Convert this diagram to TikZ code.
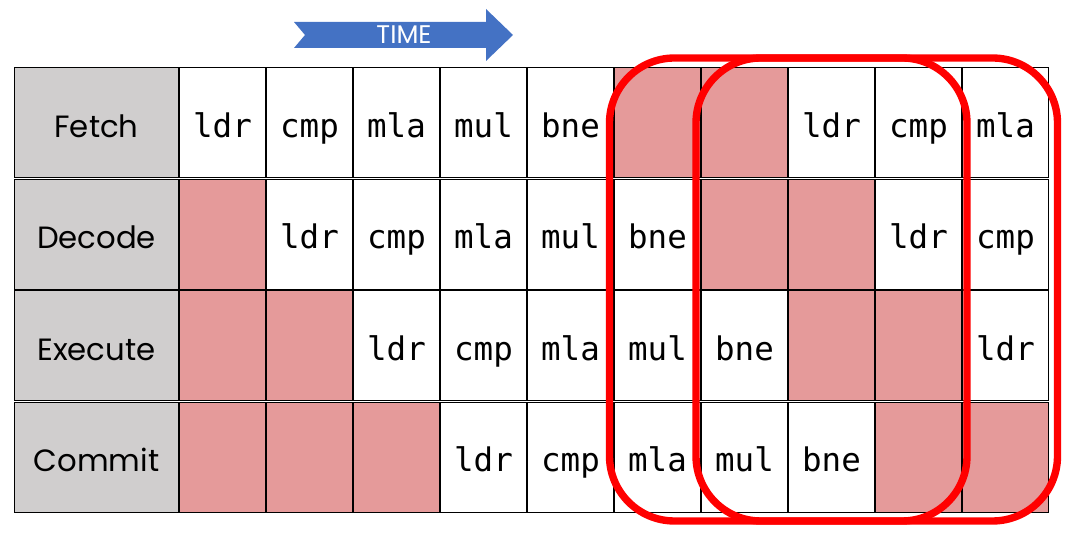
\documentclass[tikz,border=0pt]{standalone}
\usepackage{fontspec}
\setsansfont{Poppins}
\setmonofont{DejaVu Sans Mono}
\usepackage{tikz}

\definecolor{stagegray}{HTML}{D0CECE}
\definecolor{bubblepink}{HTML}{E59A9A}
\definecolor{timeblue}{HTML}{4472C4}

\tikzset{
  cell/.style={draw=black, line width=0.6pt, minimum width=1.74cm-\pgflinewidth, minimum height=2.23cm-\pgflinewidth, outer sep=0pt, inner sep=0pt, text height=22.4pt, text depth=6pt},
  stage/.style={cell, fill=stagegray, minimum width=3.3cm-\pgflinewidth, font=\sffamily\fontsize{17.5}{17.5}\selectfont},
  slot/.style={cell, fill=white, font=\ttfamily\fontsize{18.5}{18.5}\selectfont},
  bubble/.style={cell, fill=bubblepink},
  window/.style={draw=red, line width=4.2pt, rounded corners=1.3cm}
}

\begin{document}
\begin{tikzpicture}[x=0.02cm, y=-0.02cm]
\useasboundingbox (0,0) rectangle (1076,543);

% time arrow
\fill[timeblue] (294,22) -- (486,22) -- (486,9) -- (513,35) -- (486,61) -- (486,48) -- (294,48) -- (305,35) -- cycle;
\node[text=white, font=\sffamily\fontsize{14.5}{14.5}\selectfont] (time) at (404,35) {TIME};

% stages
\node[stage] (fetch)   at (96.5,122.75) {Fetch};
\node[stage] (decode)  at (96.5,234.25) {Decode};
\node[stage] (execute) at (96.5,345.75) {Execute};
\node[stage] (commit)  at (96.5,457.25) {Commit};

% fetch row
\node[slot]   (f1)  at (222.5,122.75) {ldr};
\node[slot]   (f2)  at (309.5,122.75) {cmp};
\node[slot]   (f3)  at (396.5,122.75) {mla};
\node[slot]   (f4)  at (483.5,122.75) {mul};
\node[slot]   (f5)  at (570.5,122.75) {bne};
\node[bubble] (f6)  at (657.5,122.75) {};
\node[bubble] (f7)  at (744.5,122.75) {};
\node[slot]   (f8)  at (831.5,122.75) {ldr};
\node[slot]   (f9)  at (918.5,122.75) {cmp};
\node[slot]   (f10) at (1005.5,122.75) {mla};

% decode row
\node[bubble] (d1)  at (222.5,234.25) {};
\node[slot]   (d2)  at (309.5,234.25) {ldr};
\node[slot]   (d3)  at (396.5,234.25) {cmp};
\node[slot]   (d4)  at (483.5,234.25) {mla};
\node[slot]   (d5)  at (570.5,234.25) {mul};
\node[slot]   (d6)  at (657.5,234.25) {bne};
\node[bubble] (d7)  at (744.5,234.25) {};
\node[bubble] (d8)  at (831.5,234.25) {};
\node[slot]   (d9)  at (918.5,234.25) {ldr};
\node[slot]   (d10) at (1005.5,234.25) {cmp};

% execute row
\node[bubble] (e1)  at (222.5,345.75) {};
\node[bubble] (e2)  at (309.5,345.75) {};
\node[slot]   (e3)  at (396.5,345.75) {ldr};
\node[slot]   (e4)  at (483.5,345.75) {cmp};
\node[slot]   (e5)  at (570.5,345.75) {mla};
\node[slot]   (e6)  at (657.5,345.75) {mul};
\node[slot]   (e7)  at (744.5,345.75) {bne};
\node[bubble] (e8)  at (831.5,345.75) {};
\node[bubble] (e9)  at (918.5,345.75) {};
\node[slot]   (e10) at (1005.5,345.75) {ldr};

% commit row
\node[bubble] (c1)  at (222.5,457.25) {};
\node[bubble] (c2)  at (309.5,457.25) {};
\node[bubble] (c3)  at (396.5,457.25) {};
\node[slot]   (c4)  at (483.5,457.25) {ldr};
\node[slot]   (c5)  at (570.5,457.25) {cmp};
\node[slot]   (c6)  at (657.5,457.25) {mla};
\node[slot]   (c7)  at (744.5,457.25) {mul};
\node[slot]   (c8)  at (831.5,457.25) {bne};
\node[bubble] (c9)  at (918.5,457.25) {};
\node[bubble] (c10) at (1005.5,457.25) {};

% windows
\draw[window] (609.5,58) rectangle (967,521);
\draw[window] (696,58) rectangle (1057.5,521);
\end{tikzpicture}
\end{document}
